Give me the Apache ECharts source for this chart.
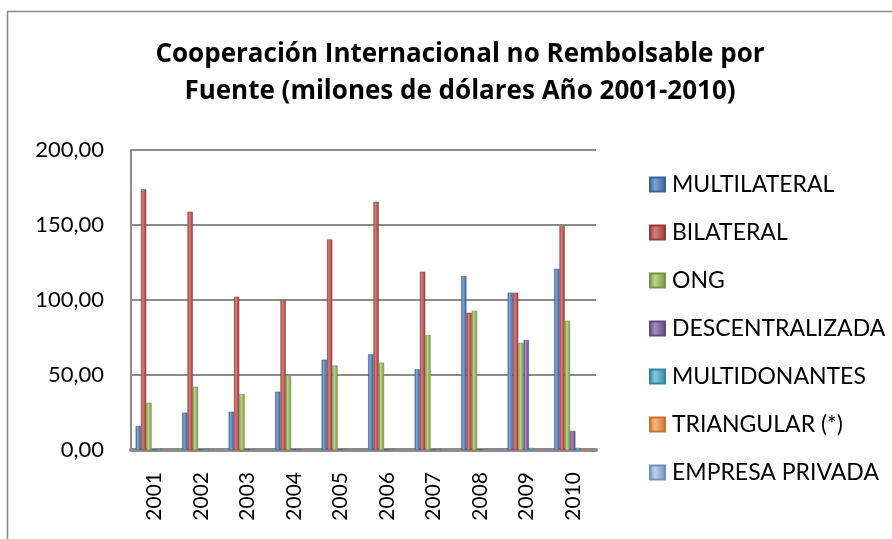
<!DOCTYPE html>
<html>
<head>
<meta charset="utf-8">
<script src="https://cdn.jsdelivr.net/npm/echarts@6/dist/echarts.min.js"></script>
<style>
    html, body { margin: 0; padding: 0; background: #fff; }
    #chart { width: 892px; height: 539px; }
</style>
</head>
<body>
<div id="chart"></div>
<script>
// years on the x axis
var years = ['2001', '2002', '2003', '2004', '2005', '2006', '2007', '2008', '2009', '2010'];

// series names (legend order)
var sources = ['MULTILATERAL', 'BILATERAL', 'ONG', 'DESCENTRALIZADA', 'MULTIDONANTES', 'TRIANGULAR (*)', 'EMPRESA PRIVADA'];

// values in millions of dollars
var multilateral   = [16.0, 24.9, 25.5, 38.9, 60.2, 63.8, 53.8, 116.0, 104.9, 120.9];
var bilateral      = [173.8, 158.9, 102.2, 100.0, 140.4, 165.5, 118.9, 91.5, 104.9, 149.3];
var ong            = [31.5, 42.2, 37.3, 49.3, 56.4, 58.2, 76.7, 92.9, 71.5, 86.2];
var descentral     = [0.5, 0.5, 0.5, 0.5, 0.5, 0.5, 0.5, 0.5, 73.3, 12.7];
var multidonantes  = [0.6, 0.6, 0.6, 0.6, 0.6, 0.6, 0.6, 0.6, 1.4, 1.4];
var triangular     = [0.5, 0.5, 0.5, 0.5, 0.5, 0.5, 0.5, 0.5, 0.5, 0.5];
var empresa        = [0.4, 0.4, 0.4, 0.4, 0.4, 0.4, 0.4, 0.4, 0.4, 0.4];

var allValues = [multilateral, bilateral, ong, descentral, multidonantes, triangular, empresa];

// y axis ticks
var yMin = 0;
var yMax = 200;
var yStep = 50;

// office 2007 palette: base, light, dark
var palette = [
    ['#4F81BD', '#7ea4d6', '#3a6399'],
    ['#C0504D', '#d97d7a', '#963c3a'],
    ['#9BBB59', '#bcd68a', '#779343'],
    ['#8064A2', '#a48bc2', '#614a7e'],
    ['#4BACC6', '#7fcbdf', '#35879d'],
    ['#F79646', '#fab77f', '#c97330'],
    ['#95B3D7', '#bcd0e8', '#7093bd']
];

var myChart = echarts.init(document.getElementById('chart'));

var series = [];
for (var i = 0; i < sources.length; i++) {
    series.push({
        name: sources[i],
        type: 'bar',
        data: allValues[i],
        barGap: '0%',
        barCategoryGap: '20%',
        itemStyle: {
            color: {
                type: 'linear', x: 0, y: 0, x2: 1, y2: 0,
                colorStops: [
                    { offset: 0, color: palette[i][2] },
                    { offset: 0.35, color: palette[i][1] },
                    { offset: 1, color: palette[i][2] }
                ]
            },
            borderColor: palette[i][2],
            borderWidth: 0.5
        }
    });
}

var option = {
    animation: false,
    color: palette.map(function (p) { return p[0]; }),
    title: {
        text: 'Cooperación Internacional no Rembolsable por\nFuente (milones de dólares Año 2001-2010)',
        left: 455,
        top: 31,
        textAlign: 'center',
        textStyle: {
            fontFamily: 'Open Sans',
            fontWeight: 'bold',
            fontSize: 26,
            lineHeight: 37,
            color: '#000'
        }
    },
    legend: {
        orient: 'vertical',
        left: 644,
        top: 168,
        itemWidth: 15,
        itemHeight: 14,
        itemGap: 25,
        icon: 'rect',
        data: sources,
        textStyle: {
            fontFamily: 'Lato',
            fontSize: 23,
            color: '#000',
            padding: [0, 0, 0, 2]
        }
    },
    grid: {
        left: 131,
        right: 296,
        top: 150,
        bottom: 89
    },
    xAxis: {
        type: 'category',
        data: years,
        axisLine: { lineStyle: { color: '#8c8c8c', width: 4 } },
        axisTick: { show: false },
        axisLabel: {
            rotate: 90,
            margin: 22,
            fontFamily: 'Lato',
            fontSize: 21,
            color: '#000'
        }
    },
    yAxis: {
        type: 'value',
        min: yMin,
        max: yMax,
        interval: yStep,
        axisLine: { show: true, lineStyle: { color: '#8c8c8c', width: 2 } },
        axisTick: { show: false },
        splitLine: { lineStyle: { color: '#8c8c8c', width: 2 } },
        axisLabel: {
            margin: 27,
            fontFamily: 'Lato',
            fontSize: 22,
            color: '#000',
            formatter: function (v) { return v.toFixed(2).replace('.', ','); }
        }
    },
    graphic: [{
        type: 'rect',
        shape: { x: 7.5, y: 11.5, width: 900, height: 540 },
        style: { fill: 'none', stroke: '#868686', lineWidth: 1.5 },
        silent: true
    }],
    series: series
};

myChart.setOption(option);
</script>
</body>
</html>
